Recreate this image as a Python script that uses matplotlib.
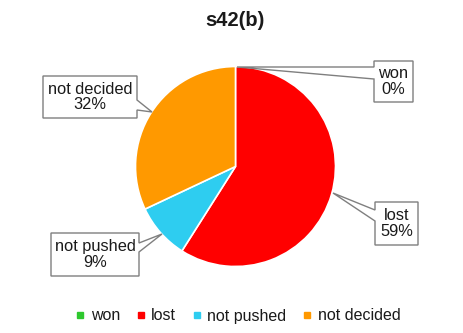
import matplotlib
matplotlib.use("Agg")
import matplotlib.pyplot as plt
from matplotlib.patches import Polygon
from matplotlib.lines import Line2D

categories = ["won", "lost", "not pushed", "not decided"]
values = [0, 59, 9, 32]
colors = ["#2ec82e", "#ff0000", "#2ecdf0", "#ff9900"]
title = "s42(b)"

W, H = 463, 333
plt.rcParams['font.family'] = ['Liberation Sans', 'DejaVu Sans']
fig = plt.figure(figsize=(W / 100, H / 100), dpi=100)
ax = fig.add_axes([0, 0, 1, 1])

def P(x, y):
    return (x, H - y)

cx, cy = P(235.5, 166.5)
ax.pie(values, colors=colors, startangle=90, counterclock=False,
       center=(cx, cy), radius=100,
       wedgeprops=dict(edgecolor="white", linewidth=1.2))
ax.set_xlim(0, W)
ax.set_ylim(0, H)
ax.set_aspect('equal')
ax.axis('off')

# callout layouts: box (x0, y0, x1, y1), side, base (b1, b2), tip
callouts = {
    "won": ((374, 61, 413, 102), "left", (67, 79), (237, 67)),
    "lost": ((375, 202, 418, 245), "left", (210, 221), (333, 193)),
    "not pushed": ((51, 233, 139, 276), "right", (243, 252), (162, 234)),
    "not decided": ((43, 76, 137, 118), "right", (100, 110), (152, 112)),
}

for cat, val in zip(categories, values):
    (x0, y0, x1, y1), side, (b1, b2), (tx, ty) = callouts[cat]
    if side == "left":
        pts = [(x0, y0), (x1, y0), (x1, y1), (x0, y1), (x0, b2), (tx, ty), (x0, b1)]
    else:
        pts = [(x0, y0), (x1, y0), (x1, b1), (tx, ty), (x1, b2), (x1, y1), (x0, y1)]
    poly = Polygon([P(px, py) for px, py in pts], closed=True,
                   facecolor="white", edgecolor="#7f7f7f", linewidth=1.0, zorder=5)
    ax.add_patch(poly)
    mx, my = P((x0 + x1) / 2, (y0 + y1) / 2)
    ax.text(mx, my, f"{cat}\n{val}%", ha="center", va="center",
            fontsize=11.8, color="#1a1a1a", linespacing=1.05, zorder=6)

ax.text(*P(235, 21), title, ha="center", va="center", fontsize=14.5,
        fontweight="bold", color="#1a1a1a")

handles = [Line2D([], [], marker="s", linestyle="none", markersize=5,
                  markerfacecolor=c, markeredgecolor=c) for c in colors]
fig.legend(handles, categories, loc="center", bbox_to_anchor=(0.514, 1 - 316 / H),
           ncol=4, frameon=False, fontsize=11.5, handlelength=0.6,
           handletextpad=0.35, columnspacing=1.0, labelcolor="#1a1a1a")

fig.savefig("out.png", dpi=100)
